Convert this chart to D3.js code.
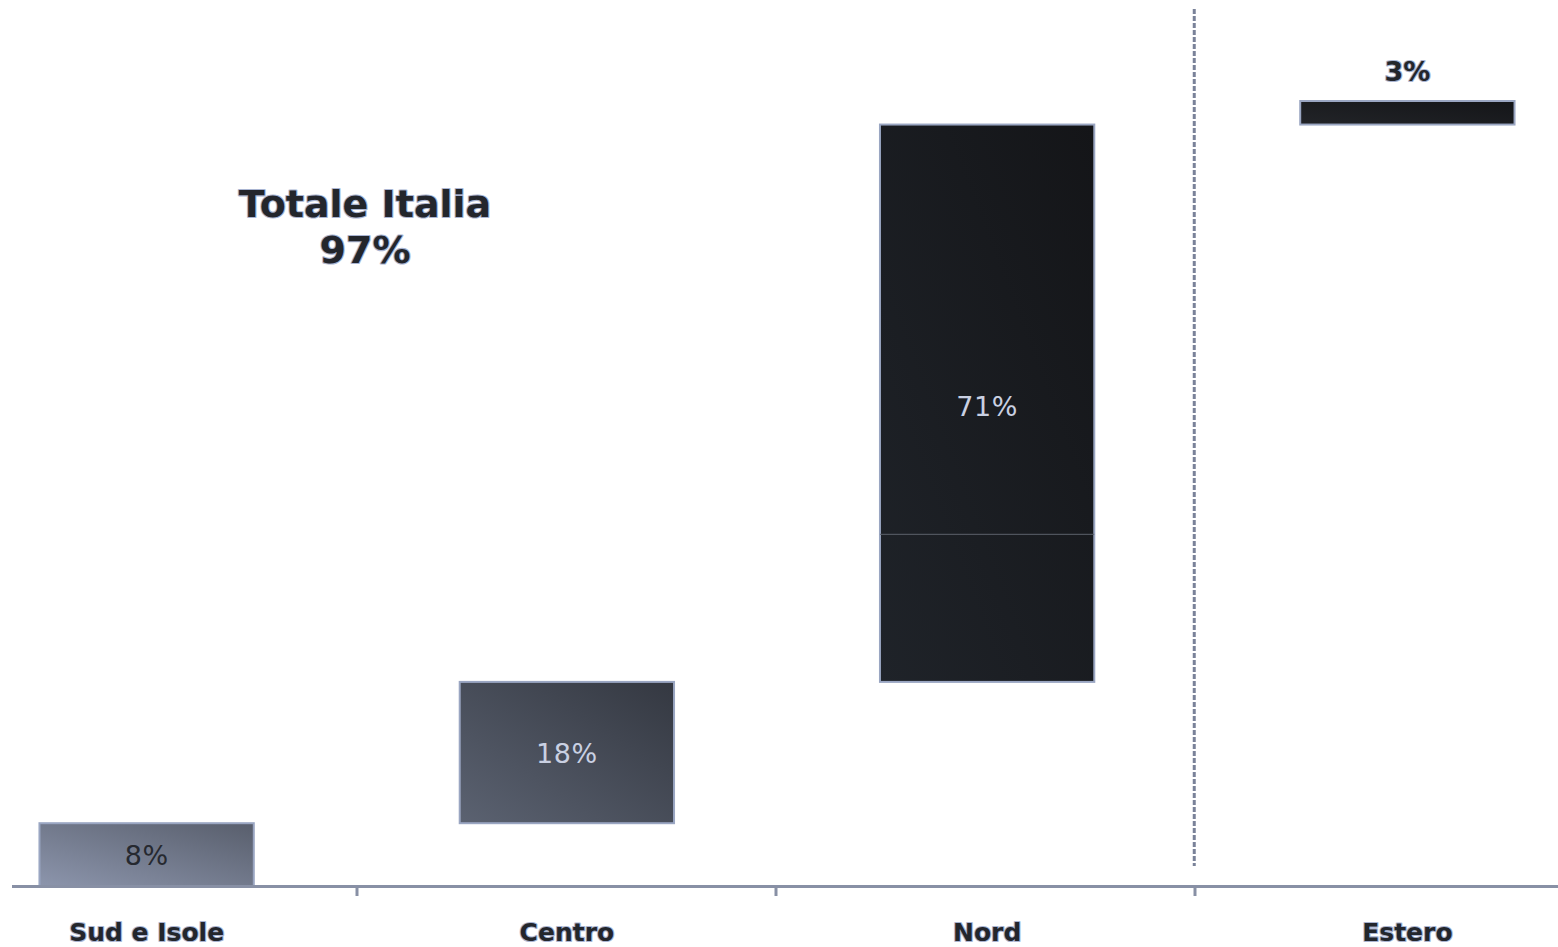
<!DOCTYPE html>
<html><head><meta charset="utf-8">
<script src="https://cdn.jsdelivr.net/npm/d3@7"></script>
<style>html,body{margin:0;padding:0;background:#fff;}svg{display:block;}</style>
</head><body>
<svg id="c" width="1558" height="947"></svg>
<script>
const categories = ["Sud e Isole", "Centro", "Nord", "Estero"];
const values = [8, 18, 71, 3];
const valueLabels = ["8%", "18%", "71%", "3%"];
const nordSplit = 44.8;
const totalLabel = ["Totale Italia", "97%"];
const yTicks = [0, 100];

const W = 1558, H = 947;
const svg = d3.select("#c");
const defs = svg.append("defs");

const x = d3.scaleBand().domain(categories).range([-63.5, 1617.5]).paddingInner(0.49).paddingOuter(0.245);
const y = d3.scaleLinear().domain([0, 100]).range([886, 101]);

let cum = 0;
const data = categories.map((c, i) => { const d = {cat: c, v: values[i], lab: valueLabels[i], start: cum, end: cum + values[i]}; cum += values[i]; return d; });

const grads = [["#8c95ac", "#585e6c"], ["#5b6271", "#343841"], ["#1f2329", "#141518"], ["#222428", "#141518"]];
grads.forEach((g, i) => {
  const lg = defs.append("linearGradient").attr("id", "g" + i).attr("x1", 0).attr("y1", 1).attr("x2", 1).attr("y2", 0);
  lg.append("stop").attr("offset", 0).attr("stop-color", g[0]);
  lg.append("stop").attr("offset", 1).attr("stop-color", g[1]);
});

// dashed separator
const sepX = x("Estero") - (x.step() - x.bandwidth()) / 2 - 3;
svg.append("line").attr("x1", sepX).attr("x2", sepX).attr("y1", 9).attr("y2", 866)
  .attr("stroke", "#7a8299").attr("stroke-width", 3).attr("stroke-dasharray", "5,2");

// bars
svg.selectAll("rect.bar").data(data).enter().append("rect").attr("class", "bar")
  .attr("x", d => x(d.cat)).attr("width", x.bandwidth())
  .attr("y", d => y(d.end)).attr("height", d => y(d.start) - y(d.end))
  .attr("fill", (d, i) => `url(#g${i})`)
  .attr("stroke", "#9aa6c2").attr("stroke-width", 2);

// Nord internal divider
svg.append("line").attr("x1", x("Nord")).attr("x2", x("Nord") + x.bandwidth())
  .attr("y1", y(nordSplit)).attr("y2", y(nordSplit)).attr("stroke", "#5d616b").attr("stroke-width", 1);

// axis
svg.append("line").attr("x1", 12).attr("x2", 1558).attr("y1", y(yTicks[0]) + 0.5).attr("y2", y(yTicks[0]) + 0.5)
  .attr("stroke", "#8890a5").attr("stroke-width", 3);
categories.slice(1).forEach((c, i) => {
  const tx = 357 + i * 419;
  svg.append("line").attr("x1", tx).attr("x2", tx).attr("y1", 887).attr("y2", 896)
    .attr("stroke", "#8890a5").attr("stroke-width", 3);
});

const halo = sel => sel.attr("paint-order", "stroke").attr("stroke", "#aab5d2").attr("stroke-width", 2.2).attr("stroke-linejoin", "round");

// category labels
svg.selectAll("text.cat").data(categories).enter().append("text").attr("class", "cat")
  .attr("x", d => x(d) + x.bandwidth() / 2).attr("y", 941)
  .attr("text-anchor", "middle").attr("font-family", "DejaVu Sans, Verdana, sans-serif")
  .attr("font-weight", "bold").attr("font-size", 25).attr("fill", "#23262c")
  .text(d => d).call(halo);

// value labels
data.forEach((d, i) => {
  const cx = x(d.cat) + x.bandwidth() / 2;
  if (i === 3) {
    svg.append("text").attr("x", cx).attr("y", 81).attr("text-anchor", "middle")
      .attr("font-family", "DejaVu Sans, Verdana, sans-serif").attr("font-weight", "bold")
      .attr("font-size", 27).attr("fill", "#23262c").text(d.lab).call(halo);
  } else {
    const cy = i === 2 ? y(d.end) + (y(d.start) - y(d.end)) * 0.505 : (y(d.start) + y(d.end)) / 2;
    svg.append("text").attr("x", cx).attr("y", cy + 10).attr("text-anchor", "middle")
      .attr("font-family", "DejaVu Sans, Verdana, sans-serif")
      .attr("font-size", 27).attr("letter-spacing", 0.5).attr("fill", i === 0 ? "#262930" : "#c9d0e2").text(d.lab);
  }
});

// Totale Italia
svg.selectAll("text.tot").data(totalLabel).enter().append("text").attr("class", "tot")
  .attr("x", 365).attr("y", (d, i) => 217 + i * 46).attr("text-anchor", "middle")
  .attr("font-family", "DejaVu Sans, Verdana, sans-serif").attr("font-weight", "bold")
  .attr("font-size", 38).attr("fill", "#23262c").text(d => d).call(halo);
</script>
</body></html>
